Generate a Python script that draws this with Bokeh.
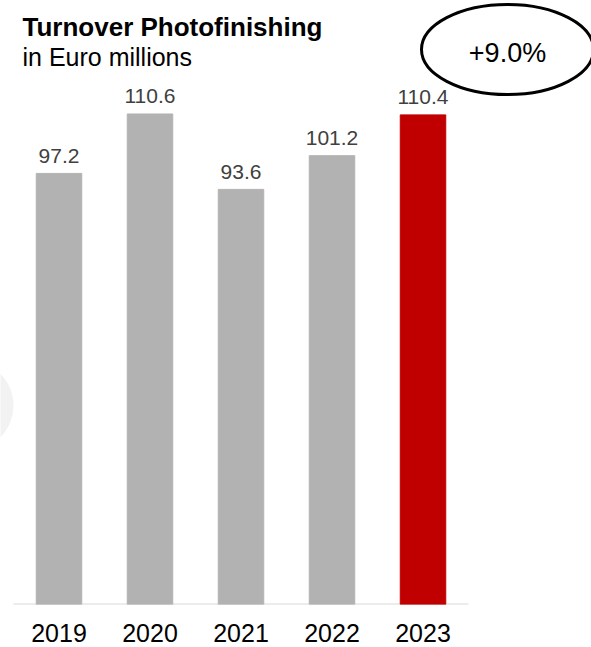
from bokeh.plotting import figure
from bokeh.models import Range1d, FixedTicker, ColumnDataSource
from bokeh.core.properties import value
from bokeh.embed import file_html
from bokeh.resources import INLINE

years = ["2019", "2020", "2021", "2022", "2023"]
turnover = [97.2, 110.6, 93.6, 101.2, 110.4]
bar_colors = ["#b2b2b2", "#b2b2b2", "#b2b2b2", "#b2b2b2", "#c00000"]
growth_label = "+9.0%"
title_text = "Turnover Photofinishing"
subtitle_text = "in Euro millions"

W, H = 591, 647
FRAME_H = 604          # pixel height of plotting frame (baseline at bottom)
PX_PER_UNIT = 4.435    # vertical pixels per Euro million
PX_PER_CAT = 91.0
X0_PX = 58.5           # pixel centre of first category

x_start = -X0_PX / PX_PER_CAT
x_end = x_start + W / PX_PER_CAT
y_end = FRAME_H / PX_PER_UNIT

def dx(px):
    return x_start + px / PX_PER_CAT

def dy(py):
    return (FRAME_H - py) / PX_PER_UNIT

FONT = value("Liberation Sans")

p = figure(width=W, height=H, output_backend="svg", toolbar_location=None,
           x_range=Range1d(x_start, x_end), y_range=Range1d(0, y_end),
           y_axis_location=None, min_border_left=0, min_border_right=0,
           min_border_top=0, min_border_bottom=H - FRAME_H)
p.grid.visible = False
p.outline_line_color = None
p.background_fill_color = "white"
p.border_fill_color = "white"

xs = list(range(len(years)))
src = ColumnDataSource(dict(
    x=xs, top=turnover, color=bar_colors,
    label=[f"{v:.1f}" for v in turnover],
    ly=[v + 17.5 / PX_PER_UNIT for v in turnover],
))

# faint decorative circle at left edge
p.circle(x=[dx(-32)], y=[dy(405)], radius=45, radius_units="screen",
         fill_color="#f2f2f2", line_color=None)

# baseline
p.segment(x0=[-0.5], y0=[0], x1=[len(years) - 0.5], y1=[0],
          line_color="#d9d9d9", line_width=2)

p.vbar(x="x", top="top", bottom=0, width=0.5, color="color", source=src)

p.text(x="x", y="ly", text="label", source=src, text_align="center",
       text_baseline="alphabetic", text_font=FONT, text_font_size="21px",
       text_color="#404040")

# title and subtitle
p.text(x=[dx(22)], y=[dy(26)], text=[title_text], text_font=FONT,
       text_font_style="bold", text_font_size="26px", text_color="black",
       text_baseline="alphabetic", text_align="left")
p.text(x=[dx(22)], y=[dy(56)], text=[subtitle_text], text_font=FONT,
       text_font_size="25px", text_color="black",
       text_baseline="alphabetic", text_align="left")

# growth ellipse
p.ellipse(x=[dx(507)], y=[dy(49)], width=172, height=90,
          width_units="screen", height_units="screen",
          fill_color=None, line_color="black", line_width=3)
p.text(x=[dx(507)], y=[dy(52)], text=[growth_label], text_font=FONT,
       text_font_size="27px", text_color="black",
       text_baseline="alphabetic", text_align="center")

ax = p.xaxis[0]
ax.ticker = FixedTicker(ticks=xs)
ax.major_label_overrides = {i: y for i, y in zip(xs, years)}
ax.axis_line_color = None
ax.major_tick_line_color = None
ax.minor_tick_line_color = None
ax.major_tick_out = 0
ax.major_tick_in = 0
ax.minor_tick_out = 0
ax.major_label_standoff = 19
ax.major_label_text_font = "Liberation Sans"
ax.major_label_text_font_size = "25px"
ax.major_label_text_color = "black"

open("out.html", "w").write(file_html(p, INLINE))
